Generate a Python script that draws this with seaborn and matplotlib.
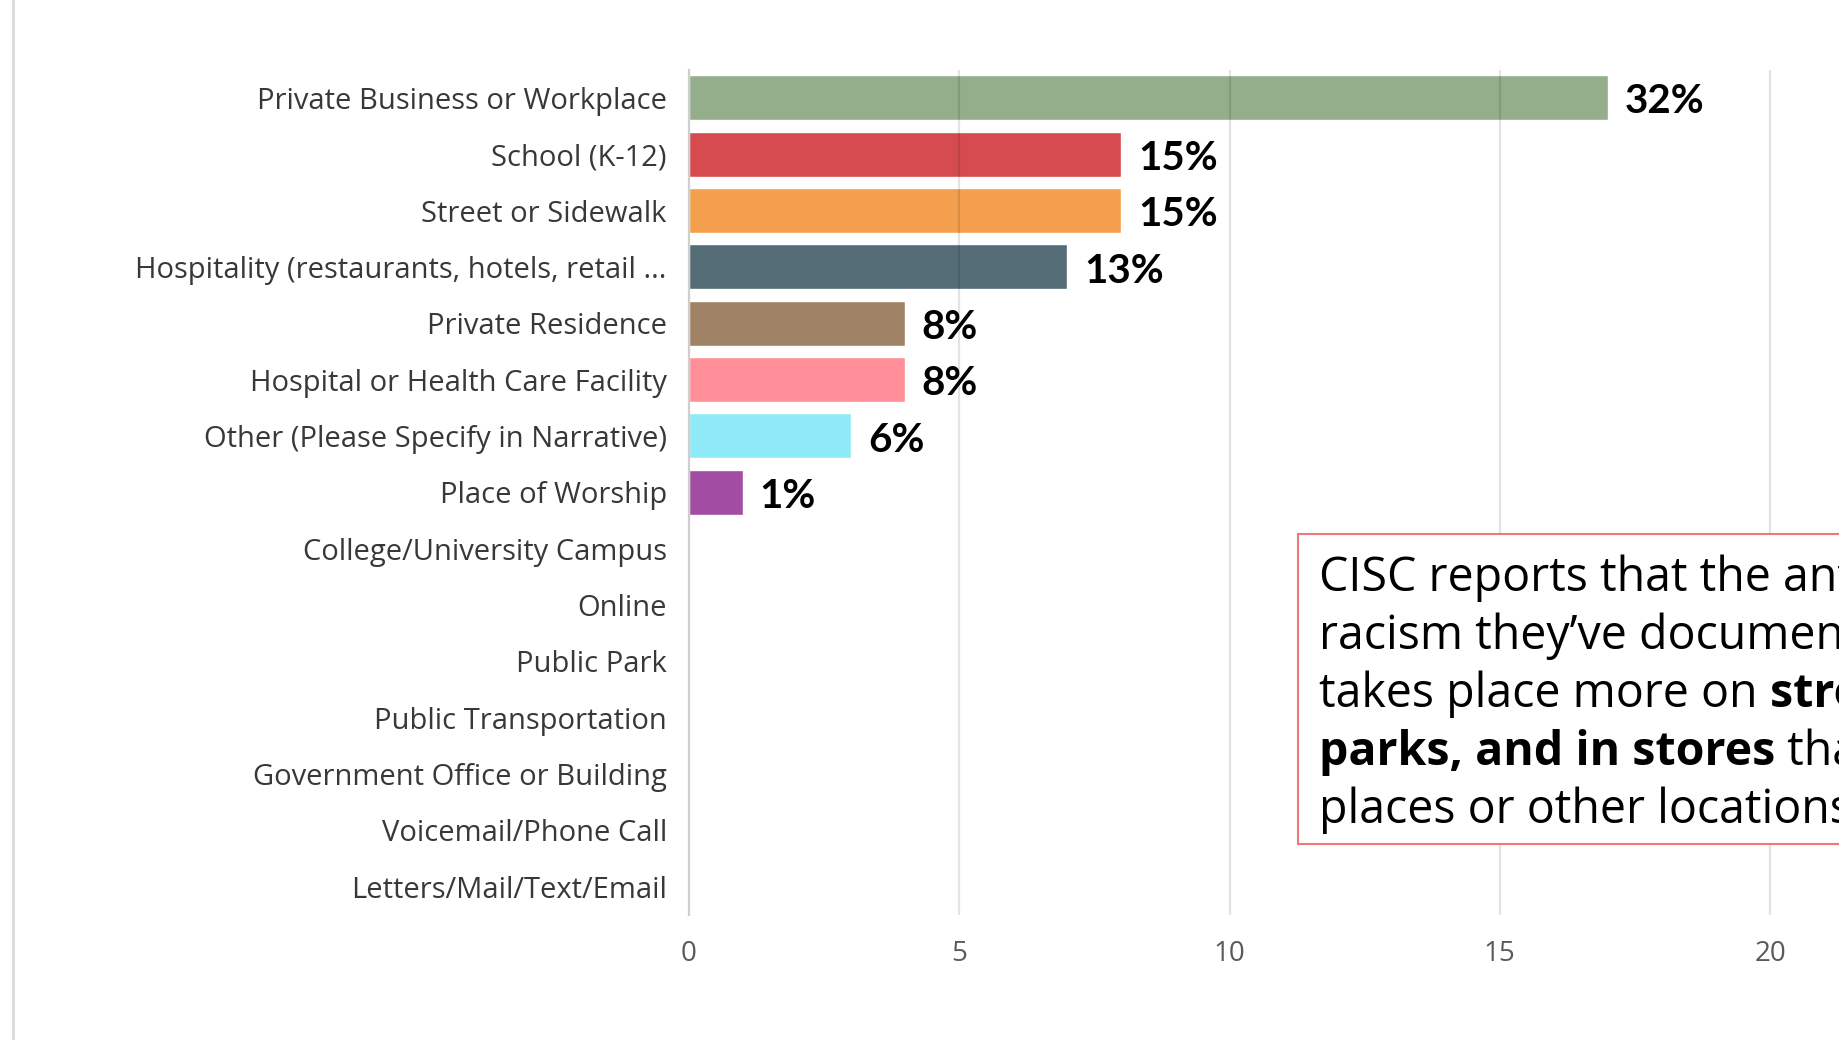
import matplotlib
matplotlib.use("Agg")
import matplotlib.pyplot as plt
import matplotlib.patches as mpatches
import seaborn as sns
import pandas as pd

# Incident locations (counts) and the share labels shown next to the bars
locations = [
    "Private Business or Workplace",
    "School (K-12)",
    "Street or Sidewalk",
    "Hospitality (restaurants, hotels, retail ...",
    "Private Residence",
    "Hospital or Health Care Facility",
    "Other (Please Specify in Narrative)",
    "Place of Worship",
    "College/University Campus",
    "Online",
    "Public Park",
    "Public Transportation",
    "Government Office or Building",
    "Voicemail/Phone Call",
    "Letters/Mail/Text/Email",
]
counts = [17, 8, 8, 7, 4, 4, 3, 1, 0, 0, 0, 0, 0, 0, 0]
share_labels = ["32%", "15%", "15%", "13%", "8%", "8%", "6%", "1%"]
bar_colors = [
    "#94AE8B", "#D64B4F", "#F49F4D", "#546C76", "#A08266", "#FF8E98",
    "#8FEAF8", "#A24CA3", "#A24CA3", "#A24CA3", "#A24CA3", "#A24CA3",
    "#A24CA3", "#A24CA3", "#A24CA3",
]
x_ticks = [0, 5, 10, 15, 20]
grid_x = [5, 10, 15, 20, 25]

note_lines = [
    [("CISC reports that the anti-Asian", False)],
    [("racism they\u2019ve documented", False)],
    [("takes place more on ", False), ("streets, in", True)],
    [("parks, and in stores", True), (" than in private", False)],
    [("places or other locations.", False)],
]

sns.set_theme(style="white")
plt.rcParams["font.family"] = ["Open Sans", "DejaVu Sans"]

W, H = 1840, 1040
fig = plt.figure(figsize=(W / 100, H / 100), dpi=100)
fig.patch.set_facecolor("white")

ax = fig.add_axes([689 / W, 1 - 915 / H, 25 * 54.05 / W, (915 - 69.6) / H])

df = pd.DataFrame({"location": locations, "count": counts})
sns.barplot(
    data=df, x="count", y="location", hue="location",
    palette=bar_colors, orient="h", width=0.8, legend=False,
    saturation=1.0, ax=ax, zorder=2,
)

ax.set_xlim(0, 25)
ax.set_ylim(len(locations) - 0.5, -0.5)
ax.set_xticks(x_ticks)
ax.set_xlabel("")
ax.set_ylabel("")

# vertical gridlines drawn over the bars, faintly
for xv in grid_x:
    ax.axvline(xv, color="black", alpha=0.11, lw=1.6, zorder=3)

for side in ["top", "right", "bottom"]:
    ax.spines[side].set_visible(False)
ax.spines["left"].set_color("#cfcfcf")
ax.spines["left"].set_linewidth(1.6)
ax.spines["left"].set_zorder(4)

ax.tick_params(axis="y", length=0, pad=16, labelsize=21, labelcolor="#383838")
ax.tick_params(axis="x", length=0, pad=18, labelsize=20, labelcolor="#5a5a5a")

# share labels to the right of each bar
for i, lab in enumerate(share_labels):
    ax.annotate(
        lab, xy=(counts[i], i), xytext=(12, -3), textcoords="offset points",
        ha="left", va="center", fontsize=29, fontweight="bold", color="black",
        family=["Lato", "DejaVu Sans"], zorder=5,
    )

# slide edge on the left
fig.add_artist(plt.Line2D([13 / W, 13 / W], [0, 1], transform=fig.transFigure,
                          color="#d9d9d9", lw=2))

# callout box
box = mpatches.Rectangle(
    (1298.5 / W, 1 - 844 / H), 700 / W, (844 - 534.4) / H,
    transform=fig.transFigure, facecolor="white", edgecolor="#F07878",
    lw=1.5, zorder=10,
)
fig.add_artist(box)

fig.canvas.draw()
renderer = fig.canvas.get_renderer()
first_baseline = 591
line_step = 58
for i, segs in enumerate(note_lines):
    x = 1319 / W
    y = 1 - (first_baseline + i * line_step) / H
    for txt, bold in segs:
        t = fig.text(x, y, txt, fontsize=33.5, color="black",
                     fontweight="bold" if bold else "normal",
                     ha="left", va="baseline", zorder=11)
        bb = t.get_window_extent(renderer)
        x += bb.width / W

fig.savefig("out.png", dpi=100)
